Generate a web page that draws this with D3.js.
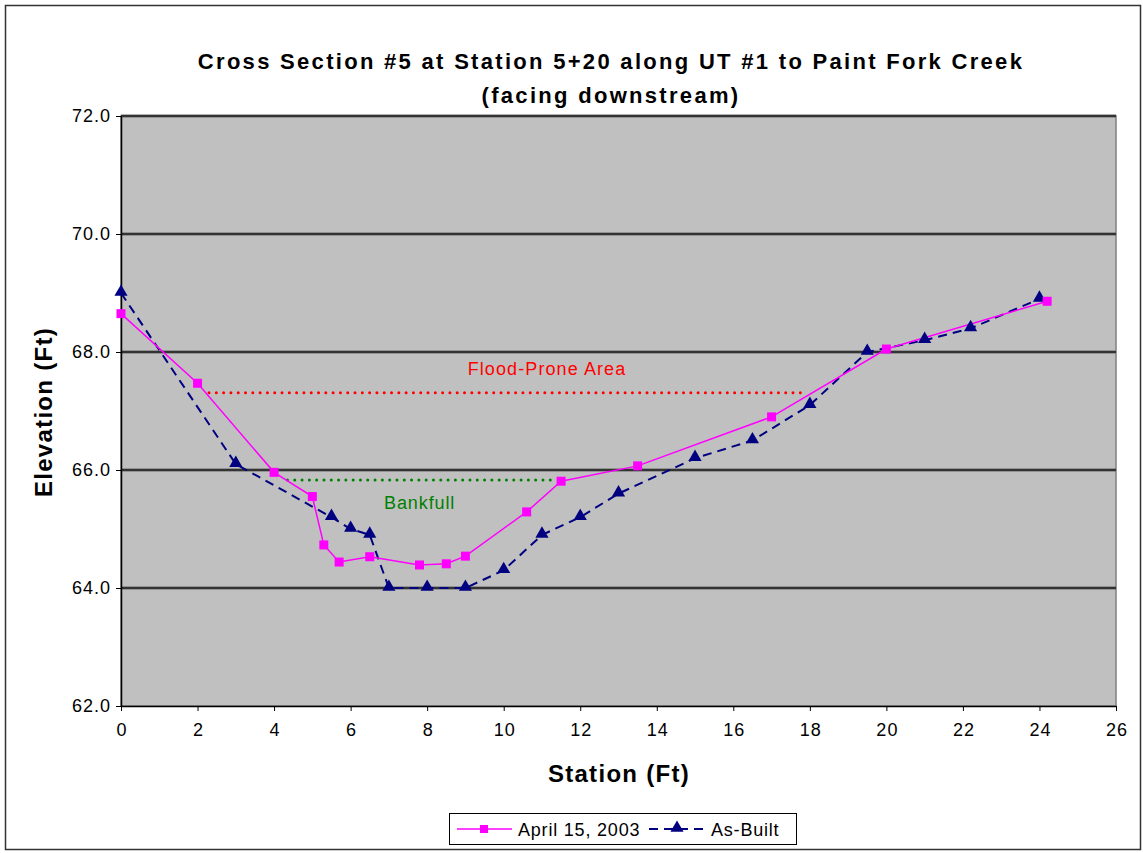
<!DOCTYPE html>
<html><head><meta charset="utf-8">
<script src="https://cdn.jsdelivr.net/npm/d3@7"></script>
<style>body{margin:0;background:#fff}svg{display:block;font-family:"Liberation Sans",Arial,sans-serif}</style>
</head><body><svg id="c" width="1143" height="853"></svg>
<script>
const aprilX = [0, 2, 4, 5, 5.3, 5.7, 6.5, 7.8, 8.5, 9, 10.6, 11.5, 13.5, 17, 20, 24.2];
const aprilY = [68.65, 67.47, 65.96, 65.55, 64.73, 64.44, 64.53, 64.39, 64.41, 64.54, 65.29, 65.81, 66.07, 66.9, 68.05, 68.86];
const builtX = [0, 3, 5.5, 6, 6.5, 7, 8, 9, 10, 11, 12, 13, 15, 16.5, 18, 19.5, 21, 22.2, 24];
const builtY = [69.0, 66.1, 65.2, 65.0, 64.9, 64.0, 64.0, 64.0, 64.3, 64.9, 65.2, 65.6, 66.2, 66.5, 67.1, 68.0, 68.2, 68.4, 68.9];
const floodX = [2.3, 17.9], floodY = 67.31;
const bankX = [4.35, 11.36], bankY = 65.83;
const xTicks = [0,2,4,6,8,10,12,14,16,18,20,22,24,26];
const yTicks = [62,64,66,68,70,72];
const seriesNames = ["April 15, 2003", "As-Built"];
const titleLines = ["Cross Section #5 at Station 5+20 along UT #1 to Paint Fork Creek", "(facing downstream)"];

const svg = d3.select("#c");
const L = 121, R = 1116, T = 116, B = 706;
const x = d3.scaleLinear().domain([0,26]).range([L,R]);
const y = d3.scaleLinear().domain([62,72]).range([B,T]);

svg.append("rect").attr("x",5.5).attr("y",5.5).attr("width",1135).attr("height",844).attr("fill","#fff").attr("stroke","#333").attr("stroke-width",1.5);

svg.append("rect").attr("x",L).attr("y",T).attr("width",R-L).attr("height",B-T).attr("fill","#C0C0C0").attr("stroke","#808080").attr("stroke-width",1.5);

// gridlines
const g = svg.append("g");
yTicks.filter(v=>v>62).forEach(v=>{
  g.append("line").attr("x1",L).attr("x2",R).attr("y1",y(v)).attr("y2",y(v)).attr("stroke","#666").attr("stroke-width",3);
  g.append("line").attr("x1",L).attr("x2",R).attr("y1",y(v)).attr("y2",y(v)).attr("stroke","#000").attr("stroke-width",1);
});

// axes
const xa = svg.append("g").attr("transform",`translate(0,${B})`)
  .call(d3.axisBottom(x).tickValues(xTicks).tickSize(5).tickSizeOuter(0).tickPadding(12).tickFormat(d3.format("d")));
const ya = svg.append("g").attr("transform",`translate(${L},0)`)
  .call(d3.axisLeft(y).tickValues(yTicks).tickSize(5).tickSizeOuter(0).tickPadding(6).tickFormat(d3.format(".1f")));
[xa,ya].forEach(a=>{
  a.selectAll("text").attr("font-size",18).attr("letter-spacing",1).attr("fill","#000").attr("font-family","Liberation Sans, Arial, sans-serif");
  a.select(".domain").attr("stroke","#000").attr("stroke-width",1.5);
  a.selectAll(".tick line").attr("stroke","#000");
});
ya.selectAll("text").attr("dx",1);
xa.selectAll("text").attr("dx",0.5);

// reference lines
svg.append("line").attr("x1",x(floodX[0])).attr("x2",x(floodX[1])).attr("y1",y(floodY)).attr("y2",y(floodY))
  .attr("stroke","#FF0000").attr("stroke-width",3).attr("stroke-dasharray","0 7.3").attr("stroke-linecap","round");
svg.append("line").attr("x1",x(bankX[0])).attr("x2",x(bankX[1])).attr("y1",y(bankY)).attr("y2",y(bankY))
  .attr("stroke","#008000").attr("stroke-width",3).attr("stroke-dasharray","0 7.3").attr("stroke-linecap","round");
svg.append("text").attr("x",547).attr("y",375).attr("text-anchor","middle").attr("font-size",18).attr("letter-spacing",1.1).attr("fill","#FF0000").text("Flood-Prone Area");
svg.append("text").attr("x",384).attr("y",509).attr("font-size",18).attr("letter-spacing",0.9).attr("fill","#008000").text("Bankfull");

const line = d3.line().x(d=>x(d[0])).y(d=>y(d[1]));
const april = aprilX.map((v,i)=>[v,aprilY[i]]);
const built = builtX.map((v,i)=>[v,builtY[i]]);

svg.append("path").datum(built).attr("d",line).attr("fill","none").attr("stroke","#000080").attr("stroke-width",2).attr("stroke-dasharray","9 6");
svg.append("path").datum(april).attr("d",line).attr("fill","none").attr("stroke","#FF00FF").attr("stroke-width",1.5);

const tri = d3.symbol().type(d3.symbolTriangle).size(75);
svg.append("g").selectAll("path").data(built).join("path").attr("d",tri)
  .attr("transform",d=>`translate(${x(d[0])},${y(d[1])-1})`).attr("fill","#000080");
svg.append("g").selectAll("rect").data(april).join("rect")
  .attr("x",d=>x(d[0])-4.5).attr("y",d=>y(d[1])-4.5).attr("width",9).attr("height",9).attr("fill","#FF00FF");

// titles
svg.append("text").attr("x",611).attr("y",69).attr("text-anchor","middle").attr("font-size",22).attr("letter-spacing",2.3).attr("font-weight","bold").text(titleLines[0]);
svg.append("text").attr("x",611).attr("y",103).attr("text-anchor","middle").attr("font-size",22).attr("letter-spacing",2.3).attr("font-weight","bold").text(titleLines[1]);
svg.append("text").attr("x",619).attr("y",782).attr("text-anchor","middle").attr("font-size",24).attr("letter-spacing",1.3).attr("font-weight","bold").text("Station (Ft)");
svg.append("text").attr("transform","translate(52,412) rotate(-90)").attr("text-anchor","middle").attr("font-size",24).attr("letter-spacing",1.3).attr("font-weight","bold").text("Elevation (Ft)");

// legend
const lg = svg.append("g");
lg.append("rect").attr("x",449.5).attr("y",813.5).attr("width",347).attr("height",31).attr("fill","#fff").attr("stroke","#000").attr("stroke-width",1);
lg.append("line").attr("x1",457).attr("x2",512).attr("y1",829).attr("y2",829).attr("stroke","#FF00FF").attr("stroke-width",1.5);
lg.append("rect").attr("x",480).attr("y",825).attr("width",8).attr("height",8).attr("fill","#FF00FF");
lg.append("text").attr("x",518).attr("y",836).attr("font-size",18).attr("letter-spacing",0.8).text(seriesNames[0]);
lg.append("line").attr("x1",649).attr("x2",705).attr("y1",829).attr("y2",829).attr("stroke","#000080").attr("stroke-width",2).attr("stroke-dasharray","9 6");
lg.append("path").attr("d",tri).attr("transform","translate(677,828)").attr("fill","#000080");
lg.append("text").attr("x",711).attr("y",836).attr("font-size",18).attr("letter-spacing",0.8).text(seriesNames[1]);
</script></body></html>
